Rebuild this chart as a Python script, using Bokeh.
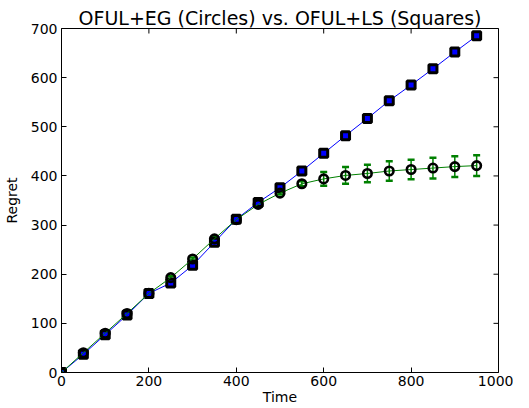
import math
from bokeh.plotting import figure
from bokeh.models import FixedTicker, Whisker, ColumnDataSource, TeeHead, Range1d
from bokeh.embed import file_html
from bokeh.resources import INLINE

# ---- data ----
time = [0, 50, 100, 150, 200, 250, 300, 350, 400, 450, 500, 550, 600, 650, 700, 750, 800, 850, 900, 950]
regret_ls = [0, 37, 77, 117, 161, 182, 218, 265, 312, 346, 376, 410, 446, 482, 517, 553, 585, 618, 652, 685]
regret_eg = [0, 40, 80, 120, 161, 193, 231, 272, 311, 342, 365, 384, 394, 401, 405, 410, 413, 416, 419, 421]
regret_eg_err = [0, 3, 3, 3, 3, 3, 3, 3, 3, 3, 3, 5, 14, 17, 18, 20, 20, 21, 21, 21]
x_ticks = [0, 200, 400, 600, 800, 1000]
y_ticks = [0, 100, 200, 300, 400, 500, 600, 700]
title_text = "OFUL+EG (Circles) vs. OFUL+LS (Squares)"
x_label = "Time"
y_label = "Regret"

FONT = "DejaVu Sans"
GREEN = "#008000"
BLUE = "#0000ff"

p = figure(width=513, height=408, output_backend="svg", toolbar_location=None,
           x_range=Range1d(x_ticks[0], x_ticks[-1]), y_range=Range1d(y_ticks[0], y_ticks[-1]),
           title=title_text, min_border_left=55, min_border_right=15,
           min_border_top=28, min_border_bottom=36)

p.title.text_font = FONT
p.title.text_font_size = "19px"
p.title.text_font_style = "normal"
p.title.text_color = "black"
p.title.align = "center"
p.title.standoff = 0
p.title.offset = 0

p.grid.visible = False
p.outline_line_color = "black"
p.outline_line_width = 1
p.background_fill_color = "white"
p.border_fill_color = "white"

for ax in [p.xaxis[0], p.yaxis[0]]:
    ax.major_label_text_font = FONT
    ax.major_label_text_font_size = "14px"
    ax.major_label_text_color = "black"
    ax.axis_label_text_font = FONT
    ax.axis_label_text_font_size = "14px"
    ax.axis_label_text_font_style = "normal"
    ax.axis_label_text_color = "black"
    ax.major_tick_in = 5
    ax.major_tick_out = 0
    ax.minor_tick_line_color = None
    ax.axis_line_color = None
    ax.major_tick_line_color = "black"

p.xaxis[0].ticker = FixedTicker(ticks=x_ticks)
p.yaxis[0].ticker = FixedTicker(ticks=y_ticks)
p.xaxis[0].axis_label = x_label
p.yaxis[0].axis_label = y_label
p.xaxis[0].major_label_standoff = 3
p.xaxis[0].axis_label_standoff = 0
p.yaxis[0].major_label_standoff = 4
p.yaxis[0].axis_label_standoff = 8

# tick marks on top and right edges (inward)
p.scatter(x=x_ticks, y=[y_ticks[-1]] * len(x_ticks), marker="dash", angle=math.pi / 2,
          size=10, line_color="black", line_width=1)
p.scatter(x=[x_ticks[-1]] * len(y_ticks), y=y_ticks, marker="dash",
          size=10, line_color="black", line_width=1)

upper = [v + e for v, e in zip(regret_eg, regret_eg_err)]
lower = [v - e for v, e in zip(regret_eg, regret_eg_err)]
src = ColumnDataSource(dict(t=time, ls=regret_ls, eg=regret_eg, up=upper, lo=lower))

# OFUL+LS squares
p.line("t", "ls", source=src, line_color=BLUE, line_width=1)
p.scatter("t", "ls", source=src, marker="square", size=8, fill_color=BLUE,
          line_color="black", line_width=3)

# OFUL+EG circles with error bars
p.line("t", "eg", source=src, line_color=GREEN, line_width=1)
p.scatter("t", "eg", source=src, marker="circle", size=8.5, fill_color=None,
          line_color="black", line_width=2.6)
w = Whisker(base="t", upper="up", lower="lo", source=src, line_color=GREEN, line_width=1.5,
            upper_head=TeeHead(size=7, line_color=GREEN, line_width=2.5),
            lower_head=TeeHead(size=7, line_color=GREEN, line_width=2.5))
p.add_layout(w)

open("out.html", "w").write(file_html(p, INLINE))
